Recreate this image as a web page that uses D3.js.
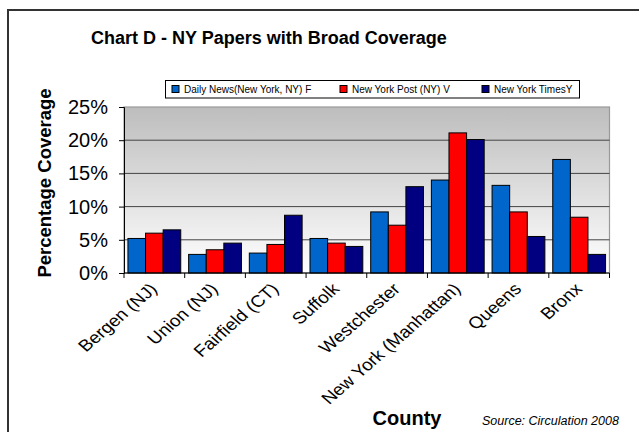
<!DOCTYPE html>
<html>
<head>
<meta charset="utf-8">
<script src="https://cdn.jsdelivr.net/npm/d3@7"></script>
<style>
  body { margin: 0; background: #fff; }
  svg { display: block; font-family: "Liberation Sans", Arial, sans-serif; }
</style>
</head>
<body>
<div id="chart"></div>
<script>
// DATA
const counties = ["Bergen (NJ)", "Union (NJ)", "Fairfield (CT)", "Suffolk", "Westchester",
                  "New York (Manhattan)", "Queens", "Bronx"];
const seriesNames = ["Daily News(New York, NY) F", "New York Post (NY) V", "New York TimesY"];
const dailyNews = [5.2, 2.8, 3.0, 5.2, 9.2, 14.0, 13.2, 17.1];
const nyPost    = [6.0, 3.5, 4.3, 4.5, 7.2, 21.1, 9.2, 8.4];
const nyTimes   = [6.5, 4.5, 8.7, 4.0, 13.0, 20.1, 5.5, 2.8];
const yTicks = [0, 5, 10, 15, 20, 25];
const colors = ["#0066cc", "#ff0000", "#000080"];

const W = 639, H = 432;
const plot = { left: 124, right: 609.5, top: 107, bottom: 273 };

const svg = d3.select("#chart").append("svg")
    .attr("width", W).attr("height", H);

// outer frame
svg.append("rect")
    .attr("x", 8).attr("y", 10)
    .attr("width", W).attr("height", H)
    .attr("fill", "none").attr("stroke", "#333").attr("stroke-width", 2);

// title
svg.append("text")
    .attr("x", 269).attr("y", 44)
    .attr("text-anchor", "middle")
    .style("font-size", "18px").style("font-weight", "bold")
    .text("Chart D - NY Papers with Broad Coverage");

// scales
const x0 = d3.scaleBand().domain(counties)
    .range([plot.left, plot.right])
    .paddingInner(0.13).paddingOuter(0.065);
const x1 = d3.scaleBand().domain(d3.range(3)).range([0, x0.bandwidth()]);
const y = d3.scaleLinear().domain([0, 25]).range([plot.bottom, plot.top]);

// background gradient
const defs = svg.append("defs");
const grad = defs.append("linearGradient").attr("id", "bg")
    .attr("x1", 0).attr("y1", 0).attr("x2", 0).attr("y2", 1);
grad.append("stop").attr("offset", "0%").attr("stop-color", "#bdbdbd");
grad.append("stop").attr("offset", "100%").attr("stop-color", "#ffffff");

svg.append("rect")
    .attr("x", plot.left).attr("y", plot.top)
    .attr("width", plot.right - plot.left).attr("height", plot.bottom - plot.top)
    .attr("fill", "url(#bg)")
    .attr("stroke", "#999").attr("stroke-width", 1.2);

// gridlines
svg.append("g").selectAll("line")
    .data(yTicks.filter(d => d > 0 && d < 25))
    .join("line")
    .attr("x1", plot.left).attr("x2", plot.right)
    .attr("y1", d => y(d)).attr("y2", d => y(d))
    .attr("stroke", "#444").attr("stroke-width", 1);

// bars
const rows = counties.map((c, i) => ({ county: c, values: [dailyNews[i], nyPost[i], nyTimes[i]] }));
const groups = svg.append("g").selectAll("g")
    .data(rows).join("g")
    .attr("transform", d => `translate(${x0(d.county)},0)`);
groups.selectAll("rect")
    .data(d => d.values)
    .join("rect")
    .attr("x", (d, i) => x1(i))
    .attr("y", d => y(d))
    .attr("width", x1.bandwidth())
    .attr("height", d => y(0) - y(d))
    .attr("fill", (d, i) => colors[i])
    .attr("stroke", "#000").attr("stroke-width", 1);

// y axis
const yAxis = svg.append("g")
    .attr("transform", `translate(${plot.left},0)`)
    .call(d3.axisLeft(y).tickValues(yTicks).tickFormat(d => d + "%").tickSize(5).tickPadding(11));
yAxis.select(".domain").attr("stroke", "#000");
yAxis.selectAll("text").style("font-size", "20px").attr("fill", "#000").attr("font-family", null);

// x axis line and ticks at band boundaries
const step = x0.step();
const boundaries = counties.map(c => x0(c) - x0.paddingInner() * step / 2).concat([plot.right]);
svg.append("line")
    .attr("x1", plot.left).attr("x2", plot.right)
    .attr("y1", plot.bottom).attr("y2", plot.bottom)
    .attr("stroke", "#000");
svg.append("g").selectAll("line")
    .data(boundaries).join("line")
    .attr("x1", d => d).attr("x2", d => d)
    .attr("y1", plot.bottom).attr("y2", plot.bottom + 5)
    .attr("stroke", "#000");

// x labels, rotated (slightly stretched horizontally like the original)
svg.append("g").selectAll("text")
    .data(counties).join("text")
    .attr("transform", d => `translate(${x0(d) + x0.bandwidth() / 2 + 4},${plot.bottom + 17}) scale(1.15,1) rotate(-45)`)
    .attr("text-anchor", "end")
    .style("font-size", "16.5px")
    .text(d => d);

// axis titles
svg.append("text")
    .attr("transform", `translate(51,183) rotate(-90)`)
    .attr("text-anchor", "middle")
    .style("font-size", "18.5px").style("font-weight", "bold")
    .text("Percentage Coverage");

svg.append("text")
    .attr("x", 407).attr("y", 425)
    .attr("text-anchor", "middle")
    .style("font-size", "20px").style("font-weight", "bold")
    .text("County");

svg.append("text")
    .attr("x", 482).attr("y", 425)
    .style("font-size", "12.5px").style("font-style", "italic")
    .text("Source: Circulation 2008");

// legend
const legend = svg.append("g");
legend.append("rect")
    .attr("x", 165.5).attr("y", 80.5)
    .attr("width", 414).attr("height", 17.5)
    .attr("fill", "#fff").attr("stroke", "#000").attr("stroke-width", 1);
const legendX = [172, 340, 482];
const items = legend.selectAll("g.item")
    .data(seriesNames).join("g")
    .attr("class", "item")
    .attr("transform", (d, i) => `translate(${legendX[i]},85.5)`);
items.append("rect")
    .attr("width", 7).attr("height", 7)
    .attr("fill", (d, i) => colors[i])
    .attr("stroke", "#000").attr("stroke-width", 1);
items.append("text")
    .attr("x", 12).attr("y", 7.5)
    .style("font-size", "10px")
    .text(d => d);
</script>
</body>
</html>
